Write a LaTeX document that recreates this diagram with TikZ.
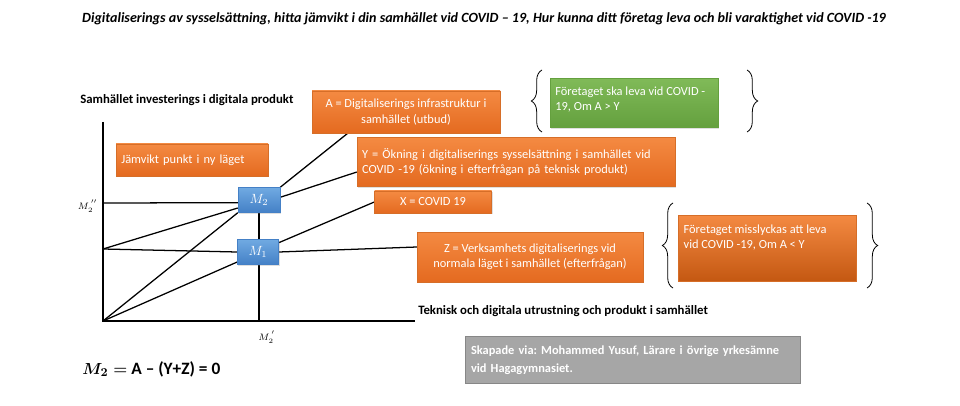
\documentclass[tikz,border=0pt]{standalone}
\usepackage{fontspec}
\setmainfont{Carlito}
\usetikzlibrary{positioning,calc,shadows,backgrounds,decorations.pathreplacing}
\frenchspacing

\definecolor{orangetop}{RGB}{244,138,66}
\definecolor{orangebot}{RGB}{228,106,32}
\definecolor{orangeline}{RGB}{214,110,40}
\definecolor{darkorangebot}{RGB}{196,88,18}
\definecolor{greentop}{RGB}{128,186,88}
\definecolor{greenbot}{RGB}{100,160,62}
\definecolor{bluetop}{RGB}{112,170,226}
\definecolor{bluebot}{RGB}{68,128,198}
\definecolor{grayfill}{RGB}{166,166,166}
\definecolor{grayline}{RGB}{135,135,135}

\tikzset{
  boxtext/.style={font=\fontsize{9.3}{11.5}\selectfont, text=white},
  orangebox/.style={rectangle, boxtext, align=center, inner sep=1pt,
    top color=orangetop, bottom color=orangebot, draw=orangeline, line width=0.3pt,
    drop shadow={opacity=0.25, shadow xshift=0.8pt, shadow yshift=-0.8pt}},
  greenbox/.style={orangebox, top color=greentop, bottom color=greenbot, draw=greenbot},
  bluebox/.style={orangebox, top color=bluetop, bottom color=bluebot, draw=bluebot,
    font=\fontsize{10}{11}\selectfont},
  graybox/.style={rectangle, boxtext, align=left, fill=grayfill, draw=grayline,
    line width=0.6pt, font=\fontsize{9.3}{13.5}\selectfont\bfseries},
  axislabel/.style={font=\fontsize{9.6}{11}\selectfont\bfseries, inner sep=0pt},
  graphline/.style={line width=0.95pt},
  bracelines/.style={decorate, decoration={brace, amplitude=8pt}, line width=0.6pt}
}

\begin{document}
\begin{tikzpicture}[x=0.75pt, y=-0.75pt]
\useasboundingbox (0,0) rectangle (960,406);

\node[font=\fontsize{10.55}{12}\selectfont\bfseries\itshape, inner sep=0pt] (title) at (484,19)
  {Digitaliserings av sysselsättning, hitta jämvikt i din samhället vid COVID – 19, Hur kunna ditt företag leva och bli varaktighet vid COVID -19};

% axlar och hjälppunkter
\coordinate (O) at (103,321);
\coordinate (ytop) at (103,122);
\coordinate (xend) at (415,321);
\coordinate (P) at (103,249);
\coordinate (Q) at (103,203);

\node[axislabel, anchor=west] (ylab) at (80,100) {Samhället investerings i digitala produkt};
\node[axislabel, anchor=west] (xlab) at (418,311) {Teknisk och digitala utrustning och produkt i samhället};

% rutor
\node[orangebox, minimum width=141pt, minimum height=31.5pt] (A) at (406,112)
  {A = Digitaliserings infrastruktur i\\ samhället (utbud)};
\node[orangebox, minimum width=238.5pt, minimum height=36.75pt, align=left, text width=231pt] (Y) at (516,162)
  {Y = Ökning i digitaliserings sysselsättning i samhället vid\\ COVID -19 (ökning i efterfrågan på teknisk produkt)};
\node[orangebox, minimum width=87.75pt, minimum height=16.5pt] (X) at (433,202) {X = COVID 19};
\node[orangebox, minimum width=169.5pt, minimum height=37.5pt] (Z) at (530,257)
  {Z = Verksamhets digitaliserings vid\\ normala läget i samhället (efterfrågan)};
\node[orangebox, minimum width=114pt, minimum height=24pt, align=left, text width=106pt] (jamvikt) at (192,160)
  {Jämvikt punkt i ny läget};
\node[greenbox, minimum width=126pt, minimum height=36.75pt, align=left] (leva) at (634,103)
  {\parbox[c][32pt][t]{118pt}{\vspace*{4pt}Företaget ska leva vid COVID -\\ 19, Om A > Y}};
\node[orangebox, bottom color=darkorangebot, minimum width=133.5pt, minimum height=49.5pt, align=left] (miss) at (767,248)
  {\parbox[c][45pt][t]{125pt}{\vspace*{5pt}Företaget misslyckas att leva\\ vid COVID -19, Om A < Y}};
\node[graybox, minimum width=251pt, minimum height=35pt, text width=243pt] (skapad) at (633,360)
  {Skapade via: Mohammed Yusuf, Lärare i övrige yrkesämne\\ vid Hagagymnasiet.};

\node[bluebox, minimum width=31.5pt, minimum height=18.75pt] (M2) at (259,200) {$M_2$};
\node[bluebox, minimum width=31pt, minimum height=18.75pt] (M1) at (258,252) {$M_1$};

% etiketter
\node[font=\fontsize{7.5}{8}\selectfont, inner sep=0pt] (m2bis) at (88,206) {$M_2^{\,''}$};
\node[font=\fontsize{7}{8}\selectfont, inner sep=0pt] (m2prim) at (267,337) {$M_2^{\,'}$};
\node[anchor=west, inner sep=0pt, font=\fontsize{13}{15}\selectfont\bfseries] (formel) at (82,369)
  {{\boldmath$M_2 =$} A – (Y+Z) = 0};

\begin{scope}[on background layer]
  \draw[graphline] (ytop) -- (O) -- (xend);
  \draw[graphline] (Q) -- ([yshift=-2pt]M2.west);
  \draw[graphline] (P) -- (M1.west);
  \draw[graphline] (M1.east) -- ([yshift=7.5pt]Z.west);
  \draw[graphline] (M2.south) -- (M2.south |- O);
  \draw[graphline] (O) -- (M2.south west);
  \draw[graphline] (O) -- ([yshift=2pt]M1.south west);
  \draw[graphline] (P) -- ([yshift=-6pt]M2.west);
  \draw[graphline] (M2.north east) -- ([xshift=27pt]A.south west);
  \draw[graphline] ([yshift=2pt]M2.east) -- ([yshift=-7.5pt]Y.west);
  \draw[graphline] ([yshift=7pt]M1.east) -- (X.west);
\end{scope}

% klamrar
\draw[bracelines] (542,132) -- (542,70);
\draw[bracelines] (747,70) -- (747,132);
\draw[bracelines] (673,288) -- (673,203);
\draw[bracelines] (867,203) -- (867,288);
\end{tikzpicture}
\end{document}
